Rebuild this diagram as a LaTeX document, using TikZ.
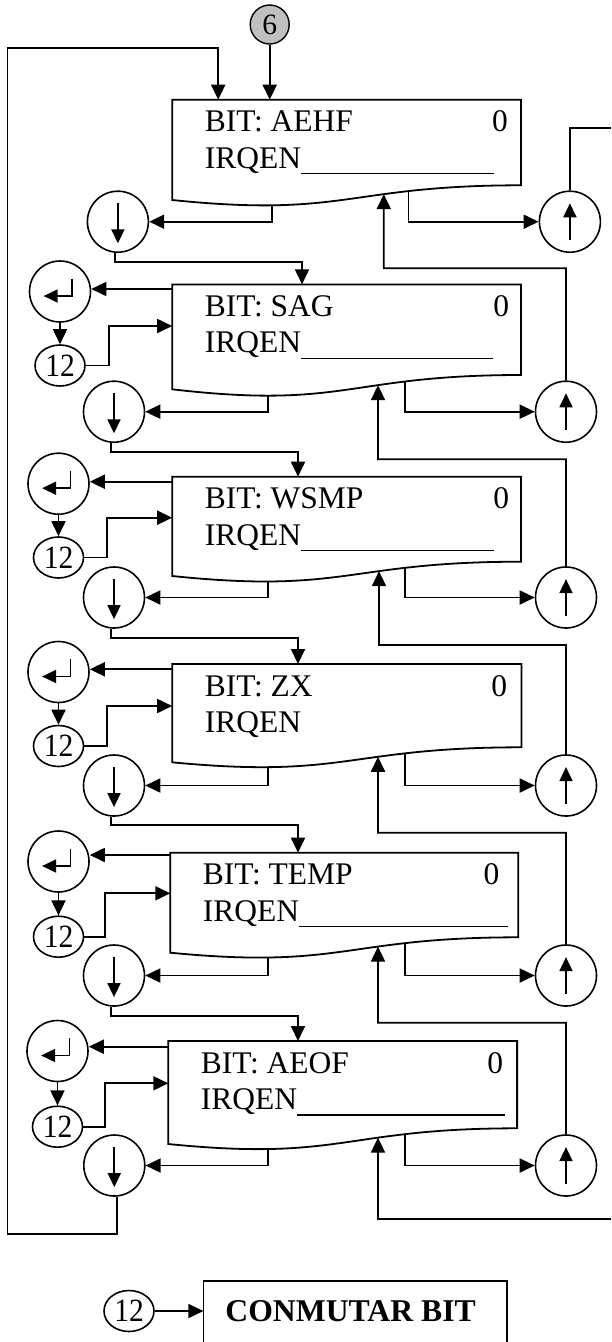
\documentclass[tikz,border=0pt]{standalone}
\usepackage{fontspec}
\usepackage{graphicx}
\setmainfont{Liberation Serif}
\usetikzlibrary{arrows.meta,shapes.geometric,calc,intersections}
\definecolor{grayfill}{RGB}{192,192,192}
\newcommand\bxfont{\fontsize{31.5}{36}\selectfont}
\newcommand\twfont{\fontsize{29.5}{34}\selectfont}
\newcommand\sxfont{\fontsize{29.5}{34}\selectfont}
\newcommand\cbfont{\fontsize{31.7}{36}\selectfont\bfseries}
% #1 name, #2 top, #3 left, #4 right, #5 right-bottom y, #6 left-bottom y, #7 label, #8 x of "0", #9 underline end
\newcommand{\docbox}[9]{%
  \draw[boxln] (#3,#2) -- (#4,#2) -- (#4,#5) .. controls ({(#3+#4)/2},#5) and ({(#3+#4)/2},{#2+(#5-#2)*1.381}) .. (#3,#6) -- cycle;
  \path[name path=#1c] (#4,#5) .. controls ({(#3+#4)/2},#5) and ({(#3+#4)/2},{#2+(#5-#2)*1.381}) .. (#3,#6);
  \node[lbl, anchor=base west] (#1a) at ({#3+32.4},{#2+32}) {BIT: #7};
  \node[lbl, anchor=base east] (#1z) at ({#8+0.7},{#2+32}) {0};
  \node[lbl, anchor=base west] (#1b) at ({#3+32.4},{#2+68.5}) {IRQEN};
  \ifx&#9&\else\draw[ul] ($(#1b.base east)+(0,5.5)$) -- (#9,{#2+74});\fi
}
% point of a box bottom curve at a given x
\newcommand{\onbottom}[3]{%
  \path[name path=tmp#3] (#2,0) -- (#2,1342);
  \path[name intersections={of=#1 and tmp#3, by=#3}];
}
\begin{document}
\begin{tikzpicture}[x=1pt,y=-1pt,
  ln/.style={line width=1.8pt},
  arr/.style={line width=1.8pt, -{Triangle[length=15pt,width=14pt]}},
  tiny/.style={line width=1.8pt, -{Triangle[length=14pt,width=13pt]}},
  boxln/.style={line width=1.8pt, line join=miter},
  nav/.style={draw, circle, line width=1.6pt, minimum size=61pt, inner sep=0pt},
  tw/.style={draw, ellipse, line width=1.6pt, minimum width=50pt, minimum height=41pt, inner sep=0pt, font=\twfont},
  lbl/.style={inner sep=0pt, font=\bxfont},
  ul/.style={line width=0.8pt},
]
\useasboundingbox (0,0) rectangle (611,1342);
\clip (0,0) rectangle (611,1342);

% ---------- boxes ----------
\docbox{b1}{99.7}{172.2}{521}{185.3}{200}{AEHF}{507.3}{494}
\begingroup\tikzset{ul/.style={line width=1.4pt}}
\docbox{b2}{284.4}{172.2}{521}{375}{389.3}{SAG}{508.5}{493}
\endgroup
\docbox{b3}{476.7}{172.2}{521}{561.7}{576}{WSMP}{508.5}{494}
\docbox{b4}{664}{172.2}{521.4}{747.3}{762.3}{ZX}{506.6}{}
\docbox{b5}{852.7}{170.3}{518.3}{937.3}{952.7}{TEMP}{498.8}{507.7}
\begingroup\tikzset{ul/.style={line width=1.4pt}}
\docbox{b6}{1041}{168.3}{517.1}{1128.3}{1144}{AEOF}{502.7}{505.4}
\endgroup

% ---------- points on box bottoms ----------
\onbottom{b1c}{271.6}{bd1}\onbottom{b1c}{408.4}{br1}\onbottom{b1c}{383.8}{bu1}
\onbottom{b2c}{267.7}{bd2}\onbottom{b2c}{405.3}{br2}\onbottom{b2c}{378}{bu2}
\onbottom{b3c}{267.7}{bd3}\onbottom{b3c}{405.3}{br3}\onbottom{b3c}{379}{bu3}
\onbottom{b4c}{267.7}{bd4}\onbottom{b4c}{405.3}{br4}\onbottom{b4c}{378}{bu4}
\onbottom{b5c}{267.7}{bd5}\onbottom{b5c}{405.3}{br5}\onbottom{b5c}{378}{bu5}
\onbottom{b6c}{267.7}{bd6}\onbottom{b6c}{405.3}{br6}\onbottom{b6c}{378}{bu6}

% ---------- circles ----------
\node[draw, circle, fill=grayfill, line width=1.4pt, minimum size=39pt, inner sep=0pt, font=\sxfont] (s6) at (269.7,24.5) {6};

\node[nav] (d1) at (117.9,221.7) {};
\node[nav] (u1) at (569.9,221.7) {};
\node[nav] (d2) at (114,411.7) {};
\node[nav] (u2) at (566,411.7) {};
\node[nav] (d3) at (114,597.5) {};
\node[nav] (u3) at (566,597.5) {};
\node[nav] (d4) at (114,785.5) {};
\node[nav] (u4) at (566,785.5) {};
\node[nav] (d5) at (114,975.5) {};
\node[nav] (u5) at (566,975.5) {};
\node[nav] (d6) at (114.3,1165.5) {};
\node[nav] (u6) at (566,1165.5) {};

\node[nav] (r2) at (60,291.5) {};
\node[nav] (r3) at (58.5,483.7) {};
\node[nav] (r4) at (58.5,672) {};
\node[nav] (r5) at (58.5,861.5) {};
\node[nav] (r6) at (57.5,1051) {};

\node[tw] (w2) at (60,365.5) {\scalebox{1}[1.1]{12}};
\node[tw] (w3) at (58.5,557.5) {\scalebox{1}[1.1]{12}};
\node[tw] (w4) at (58.5,746) {\scalebox{1}[1.1]{12}};
\node[tw] (w5) at (58.5,936.7) {\scalebox{1}[1.1]{12}};
\node[tw] (w6) at (57.5,1126.7) {\scalebox{1}[1.1]{12}};

% symbols inside circles
\foreach \n in {d1,d2,d3,d4,d5,d6}{
  \draw[tiny] ($(\n)+(0,-18.4)$) -- ($(\n)+(0,21.6)$);
}
\foreach \n in {u1,u2,u3,u4,u5,u6}{
  \draw[tiny] ($(\n)+(0,18.3)$) -- ($(\n)+(0,-18.4)$);
}
\foreach \n in {r2,r3,r4,r5,r6}{
  \draw[tiny] ($(\n)+(12,-13)$) |- ($(\n)+(-16.4,4.5)$);
}

% ---------- connectors ----------
\coordinate (in1s) at (269.7,99.7);
\draw[arr] (s6) -- (in1s);

% loop from last row back to first box
\coordinate (in1l) at (218.2,99.7);
\coordinate (lpA) at (7.5,1234.3);
\coordinate (lpB) at (7.5,48.3);
\draw[arr] ([xshift=3pt]d6.south) |- (lpA) -- (lpB) -| (in1l);

% down circle -> next box
\coordinate (m1) at (302,261.7);  \coordinate (in2) at (302,284.4);
\coordinate (m2) at (298,451.7);  \coordinate (in3) at (298,476.7);
\coordinate (m3) at (298,638.3);  \coordinate (in4) at (298,664);
\coordinate (m4) at (298,825);    \coordinate (in5) at (298,852.7);
\coordinate (m5) at (298,1016);   \coordinate (in6) at (298,1041);
\draw[arr] ([xshift=-3pt]d1.south) |- (m1) -- (in2);
\draw[arr] ([xshift=-3pt]d2.south) |- (m2) -- (in3);
\draw[arr] ([xshift=-3pt]d3.south) |- (m3) -- (in4);
\draw[arr] ([xshift=-3pt]d4.south) |- (m4) -- (in5);
\draw[arr] ([xshift=-3pt]d5.south) |- (m5) -- (in6);

% box -> down circle, box -> up circle
\foreach \i in {1,...,6}{
  \draw[arr] (bd\i) |- (d\i);
  \draw[arr] (br\i) |- (u\i);
}

% up circle -> previous box
\coordinate (k1) at (383.8,268.3);
\coordinate (k2) at (378,459.3);
\coordinate (k3) at (379,645);
\coordinate (k4) at (378,832.7);
\coordinate (k5) at (378,1022.7);
\draw[arr] (u2.north) |- (k1) -- (bu1);
\draw[arr] (u3.north) |- (k2) -- (bu2);
\draw[arr] (u4.north) |- (k3) -- (bu3);
\draw[arr] (u5.north) |- (k4) -- (bu4);
\draw[arr] (u6.north) |- (k5) -- (bu5);

% wrap-around on the right edge
\coordinate (edgeT) at (611,128.3);
\coordinate (edgeB) at (611,1219);
\draw[ln] (u1.north) |- (edgeT);
\draw[arr] (edgeB) -| (bu6);

% box -> return circle
\coordinate (ra2) at (172.2,289);
\coordinate (ra3) at (172.2,481.7);
\coordinate (ra4) at (172.2,669.3);
\coordinate (ra5) at (170.3,855);
\coordinate (ra6) at (168.3,1046.7);
\foreach \i in {2,...,6}{
  \draw[arr] (ra\i) -- (ra\i -| r\i.east);
  \draw[arr] (r\i) -- (w\i);
}

% 12 -> box
\coordinate (j2) at (109,326);     \coordinate (e2) at (172.2,326);
\coordinate (j3) at (107.2,517.7); \coordinate (e3) at (172.2,517.7);
\coordinate (j4) at (107.2,706);   \coordinate (e4) at (172.2,706);
\coordinate (j5) at (105.2,893.3); \coordinate (e5) at (170.3,893.3);
\coordinate (j6) at (105.2,1083.3);\coordinate (e6) at (168.3,1083.3);
\foreach \i in {2,...,6}{
  \draw[arr] (w\i.east) -| (j\i) -- (e\i);
}

% ---------- legend ----------
\node[tw] (w7) at (129,1311) {\scalebox{1}[1.1]{12}};
\draw[boxln] (203.4,1360) -- (203.4,1280.7) -- (507.3,1280.7) -- (507.3,1360);
\coordinate (cbl) at (203.4,1311);
\draw[arr] (w7) -- (cbl);
\node[inner sep=0pt, anchor=base west, font=\cbfont] (cb) at (225.2,1321.7) {CONMUTAR BIT};
\end{tikzpicture}
\end{document}
